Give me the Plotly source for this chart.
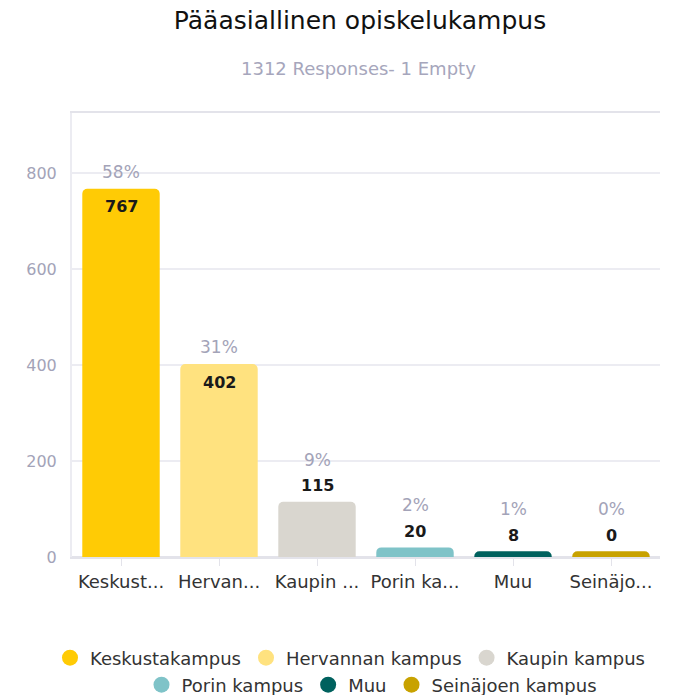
import plotly.graph_objects as go

categories = ["Keskustakampus", "Hervannan kampus", "Kaupin kampus", "Porin kampus", "Muu", "Seinäjoen kampus"]
tick_labels = ["Keskust...", "Hervan...", "Kaupin ...", "Porin ka...", "Muu", "Seinäjo..."]
counts = [767, 402, 115, 20, 8, 0]
percents = ["58%", "31%", "9%", "2%", "1%", "0%"]
colors = ["#FFCB05", "#FFE27F", "#D9D6CF", "#7FC3C8", "#00615E", "#C8A200"]
y_ticks = [0, 200, 400, 600, 800]

title_text = "Pääasiallinen opiskelukampus"
subtitle_text = "1312 Responses- 1 Empty"

MIN_VISIBLE = 12   # minimum drawn bar height (styling, as in reference)
INSIDE_THRESHOLD = 300

FONT = "DejaVu Sans, sans-serif"

heights = [max(v, MIN_VISIBLE) for v in counts]

fig = go.Figure()
fig.add_trace(go.Bar(
    x=categories, y=heights,
    marker=dict(color=colors, line=dict(width=0)),
    width=0.79,
    showlegend=False,
    hoverinfo="skip",
))

# legend entries as circles, split in two centred rows
for i, (name, c) in enumerate(zip(categories, colors)):
    fig.add_trace(go.Scatter(
        x=[None], y=[None], mode="markers", name=name,
        marker=dict(symbol="circle", size=20, color=c),
        showlegend=True,
        legend="legend" if i < 3 else "legend2",
    ))

annotations = []
for cat, v, h, p in zip(categories, counts, heights, percents):
    if v > INSIDE_THRESHOLD:
        cnt_shift = -18
        pct_shift = 17
    else:
        cnt_shift = 16
        pct_shift = 42
    annotations.append(dict(x=cat, y=h, text=f"<b>{v}</b>", showarrow=False,
                            yshift=cnt_shift, font=dict(family=FONT, size=16, color="#1a1a1a")))
    annotations.append(dict(x=cat, y=h, text=p, showarrow=False,
                            yshift=pct_shift, font=dict(family=FONT, size=17, color="#A3A3B8")))

annotations.append(dict(xref="paper", yref="paper", x=(358 - 72) / 588, y=1, xanchor="center", yanchor="middle",
                        yshift=45, showarrow=False, text=subtitle_text,
                        font=dict(family=FONT, size=18, color="#A6A6BC")))

legend_font = dict(family=FONT, size=18, color="#333333")

fig.update_layout(
    width=682, height=695,
    margin=dict(l=72, r=22, t=113, b=138, autoexpand=False),
    paper_bgcolor="white", plot_bgcolor="white",
    title=dict(text=title_text, x=360 / 682, xanchor="center", y=1 - 20 / 695, yanchor="middle",
               font=dict(family=FONT, size=25, color="#111111")),
    annotations=annotations,
    xaxis=dict(
        tickvals=categories, ticktext=tick_labels,
        tickfont=dict(family=FONT, size=18, color="#333333"),
        ticks="outside", ticklen=7, tickcolor="#E3E3EA",
        showline=True, linecolor="#E3E3EA", linewidth=2, mirror=True,
        showgrid=False, range=[-0.5, 5.5],
    ),
    yaxis=dict(
        range=[0, 925], tickvals=y_ticks,
        tickfont=dict(family=FONT, size=16, color="#A3A3B8"),
        showgrid=True, gridcolor="#ECECF2", gridwidth=2,
        showline=True, linecolor="#ECECF2", linewidth=2,
        zeroline=True, zerolinecolor="#E3E3EA", zerolinewidth=2,
        ticks="", ticklabelstandoff=10,
    ),
    barcornerradius=5,
    legend=dict(orientation="h", xref="paper", yref="paper",
                x=(50 - 72) / 588, xanchor="left", y=(557 - 658) / 444, yanchor="middle",
                font=legend_font, itemsizing="trace", bgcolor="rgba(0,0,0,0)"),
    legend2=dict(orientation="h", xref="container", yref="container",
                 x=372 / 682, xanchor="center", y=1 - 685 / 695, yanchor="middle",
                 font=legend_font, itemsizing="trace", bgcolor="rgba(0,0,0,0)"),
)

fig.write_html("out.html", config={"displayModeBar": False},
               post_script="document.body.style.margin='0';")
